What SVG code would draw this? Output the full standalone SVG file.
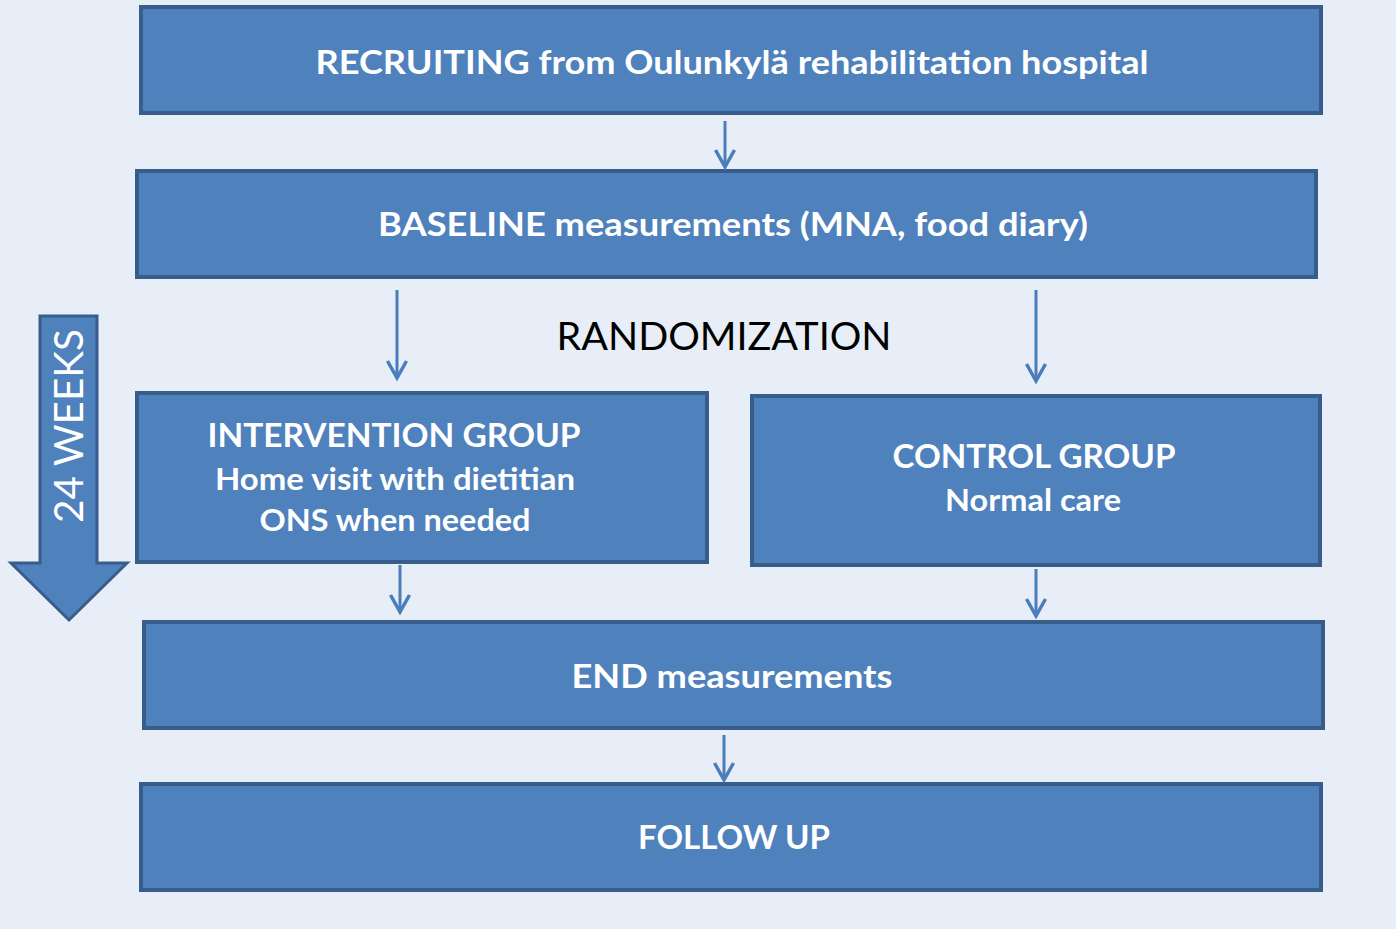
<svg xmlns="http://www.w3.org/2000/svg" width="1396" height="929" viewBox="0 0 1396 929">
<defs>
<style>
.bg{fill:#e8eef7}
.box{fill:#4f81bd;stroke:#385d8a;stroke-width:4}
.t{font-family:Lato,"Liberation Sans",sans-serif;font-weight:bold;fill:#fff;text-anchor:middle}
.l{font-size:32px}
.s{font-size:31px}
.con{stroke:#4a7ebb;stroke-width:3;fill:none;marker-end:url(#ah)}
.rand{font-family:Lato,"Liberation Sans",sans-serif;font-size:38px;fill:#000;text-anchor:middle}
</style>
<marker id="ah" markerUnits="userSpaceOnUse" viewBox="-20 -12 24 24" refX="0" refY="0" markerWidth="24" markerHeight="24" orient="auto">
<path d="M-17,-9.5 L0,0 L-17,9.5" fill="none" stroke="#4a7ebb" stroke-width="3.5" stroke-linejoin="miter"/>
</marker>
</defs>
<rect class="bg" x="0" y="0" width="1396" height="929"/>

<g id="weeks">
<polygon points="40,316 97,316 97,563 127,563 69,620 11,563 40,563" fill="#4f81bd" stroke="#385d8a" stroke-width="3" stroke-linejoin="miter"/>
<text transform="translate(83,426) rotate(-90)" font-family="Lato,'Liberation Sans',sans-serif" font-size="40" fill="#fff" text-anchor="middle" textLength="194" lengthAdjust="spacingAndGlyphs">24 WEEKS</text>
</g>

<g id="recruiting">
<rect class="box" x="141" y="7" width="1180" height="106"/>
<text class="t l" x="732" y="74" textLength="833" lengthAdjust="spacingAndGlyphs">RECRUITING from Oulunkylä rehabilitation hospital</text>
</g>

<g id="baseline">
<rect class="box" x="137" y="171" width="1179" height="106"/>
<text class="t l" x="733" y="236" textLength="710" lengthAdjust="spacingAndGlyphs">BASELINE measurements (MNA, food diary)</text>
</g>

<g id="randomization">
<text class="rand" x="724" y="350" textLength="335" lengthAdjust="spacingAndGlyphs">RANDOMIZATION</text>
</g>

<g id="intervention">
<rect class="box" x="137" y="393" width="570" height="169"/>
<text class="t l" x="394" y="447" textLength="373" lengthAdjust="spacingAndGlyphs">INTERVENTION GROUP</text>
<text class="t s" x="395" y="490" textLength="360" lengthAdjust="spacingAndGlyphs">Home visit with dietitian</text>
<text class="t s" x="395" y="531" textLength="271" lengthAdjust="spacingAndGlyphs">ONS when needed</text>
</g>

<g id="control">
<rect class="box" x="752" y="396" width="568" height="169"/>
<text class="t l" x="1034" y="468" textLength="283" lengthAdjust="spacingAndGlyphs">CONTROL GROUP</text>
<text class="t s" x="1033" y="511" textLength="176" lengthAdjust="spacingAndGlyphs">Normal care</text>
</g>

<g id="end">
<rect class="box" x="144" y="622" width="1179" height="106"/>
<text class="t l" x="732" y="688" textLength="321" lengthAdjust="spacingAndGlyphs">END measurements</text>
</g>

<g id="followup">
<rect class="box" x="141" y="784" width="1180" height="106"/>
<text class="t l" x="734" y="849" textLength="192" lengthAdjust="spacingAndGlyphs">FOLLOW UP</text>
</g>

<g id="connectors">
<path class="con" d="M725,121 L725,167"/>
<path class="con" d="M397,290 L397,378"/>
<path class="con" d="M1036,290 L1036,381"/>
<path class="con" d="M400,565 L400,612"/>
<path class="con" d="M1036,569 L1036,616"/>
<path class="con" d="M724,735 L724,780"/>
</g>
</svg>
